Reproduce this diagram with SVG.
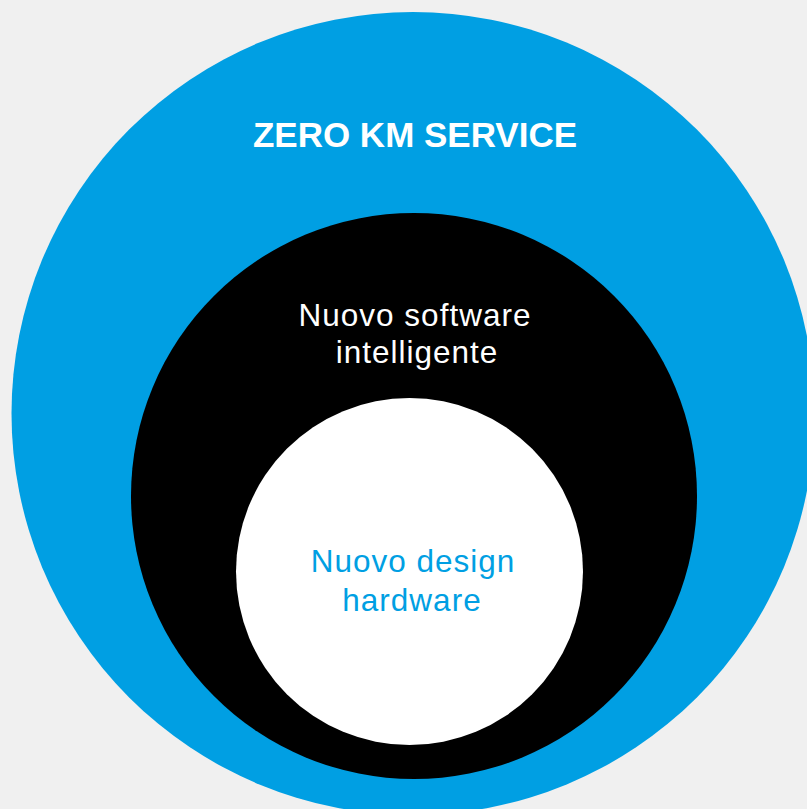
<svg xmlns="http://www.w3.org/2000/svg" width="807" height="809" viewBox="0 0 807 809">
<style>
.t{font-family:"Liberation Sans",Arial,Helvetica,sans-serif;text-anchor:middle}
.h{font-weight:bold;font-size:35px;fill:#fff}
.w{font-size:31.5px;fill:#fff;letter-spacing:1px}
.b{font-size:31.5px;fill:#009FE3;letter-spacing:1px}
</style>
<rect width="807" height="809" fill="#F0F0F0"/>
<g id="outer">
<circle cx="413" cy="413.5" r="401.5" fill="#009FE3"/>
<text class="t h" x="415" y="147">ZERO KM SERVICE</text>
</g>
<g id="middle">
<circle cx="414" cy="496" r="283" fill="#000"/>
<text class="t w" x="415" y="326">Nuovo software</text>
<text class="t w" x="417" y="363">intelligente</text>
</g>
<g id="inner">
<circle cx="409.5" cy="571.5" r="173.5" fill="#fff"/>
<text class="t b" x="413" y="572">Nuovo design</text>
<text class="t b" x="412" y="611">hardware</text>
</g>
<g id="connectors"/>
</svg>
